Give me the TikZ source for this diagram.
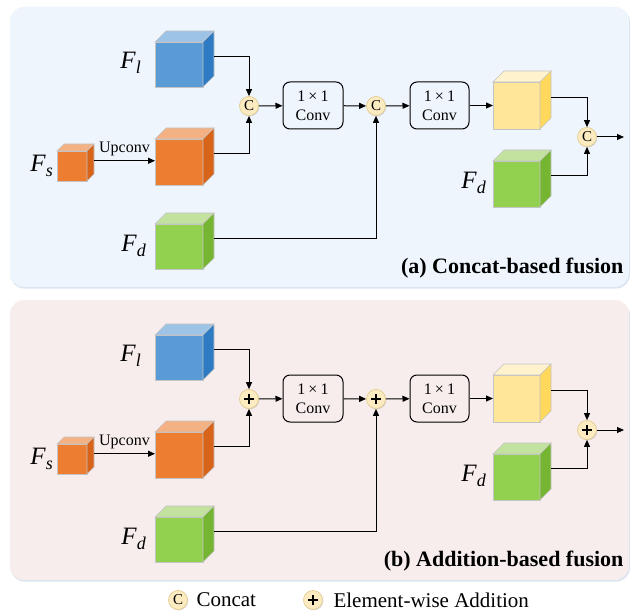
\documentclass[tikz,border=0pt]{standalone}
\usepackage{fontspec}
\setmainfont{LiberationSerif}[Extension=.ttf, UprightFont=*-Regular, BoldFont=*-Bold, ItalicFont=*-Italic, BoldItalicFont=*-BoldItalic]
\usetikzlibrary{arrows.meta,calc,shadows}

\definecolor{bgA}{HTML}{EEF5FC}
\definecolor{bgB}{HTML}{F8EDED}
\definecolor{panelshadow}{HTML}{D9E4F0}
\definecolor{edgec}{HTML}{C4C4C4}
\definecolor{blueF}{HTML}{5B9BD5}
\definecolor{blueT}{HTML}{9DC3E6}
\definecolor{blueS}{HTML}{2E7BC4}
\definecolor{orangeF}{HTML}{ED7D31}
\definecolor{orangeT}{HTML}{F4B183}
\definecolor{orangeS}{HTML}{D8641A}
\definecolor{greenF}{HTML}{92D050}
\definecolor{greenT}{HTML}{C3E2A0}
\definecolor{greenS}{HTML}{76B531}
\definecolor{yellowF}{HTML}{FFE699}
\definecolor{yellowT}{HTML}{FFF2CC}
\definecolor{yellowS}{HTML}{FFD85C}
\definecolor{opfill}{HTML}{FCEBC0}
\definecolor{opedge}{HTML}{E2CC90}

\tikzset{
  arr/.style={line width=1pt, -{Triangle[length=7pt,width=6pt]}},
  opnode/.style={circle, fill=opfill, draw=opedge, line width=0.7pt, minimum size=19pt, inner sep=0pt, text=black,
    drop shadow={shadow xshift=0.8pt, shadow yshift=-0.9pt, opacity=0.25}},
  concat/.style={opnode, path picture={\node[text=black] at (path picture bounding box.center) {\fontsize{15}{15}\selectfont C};}},
  addop/.style={opnode, path picture={
      \draw[black, line width=1.9pt] ($(path picture bounding box.center)+(-5,0)$) -- ++(10,0);
      \draw[black, line width=1.9pt] ($(path picture bounding box.center)+(0,-5)$) -- ++(0,10);}},
  convbox/.style={draw, line width=1pt, rounded corners=7pt, minimum width=60pt, minimum height=47pt,
    align=center, inner sep=0pt, font=\fontsize{16}{19}\selectfont},
  flabel/.style={anchor=east, inner sep=0pt},
  caption/.style={anchor=east, font=\bfseries\fontsize{22}{24}\selectfont},
  legendtext/.style={anchor=west, font=\fontsize{21}{23}\selectfont},
}

\newcommand{\flab}[1]{\fontsize{25}{26}\selectfont\textit{F}\raisebox{-5pt}{\fontsize{18}{20}\selectfont\textit{#1}}}
\newcommand{\onebyone}{1\hspace{0.2em}×\hspace{0.2em}1}

% name, x, y, w, h, depth, colour prefix
\newcommand{\mycube}[7]{%
  \node[draw=edgec, line width=0.6pt, fill=#7F, minimum width=#4pt, minimum height=#5pt, inner sep=0pt, outer sep=0pt] (#1) at (#2,#3) {};
  \filldraw[draw=edgec, line width=0.6pt, fill=#7T] (#1.north west) -- ++(#6,-#6) -- ++(#4,0) -- (#1.north east) -- cycle;
  \filldraw[draw=edgec, line width=0.6pt, fill=#7S] (#1.north east) -- ++(#6,-#6) -- ++(0,#5) -- (#1.south east) -- cycle;
  \coordinate (#1-out) at ($(#1.east)+(#6,-#6*0.75)$);
}

% prefix, y shift, operator style, caption
\newcommand{\fusionpanel}[4]{%
\begin{scope}[yshift=#2]
  \mycube{#1fl}{179}{64.5}{48}{45}{11}{blue}
  \mycube{#1fs}{72}{166}{30}{30}{7}{orange}
  \mycube{#1fo}{179}{162}{48}{46}{11}{orange}
  \mycube{#1fd}{179}{246.5}{48}{45}{11}{green}
  \mycube{#1fy}{516.5}{105.5}{47}{47}{11}{yellow}
  \mycube{#1fg}{516.5}{184}{47}{46}{11}{green}
  \node[flabel] (#1lfl) at (141,63) {\flab{l}};
  \node[flabel] (#1lfs) at (53,166) {\flab{s}};
  \node[flabel] (#1lfd) at (146,246) {\flab{d}};
  \node[flabel] (#1lfg) at (486,183) {\flab{d}};
  \node[#3] (#1c1) at (249,106) {};
  \node[convbox] (#1box1) at (313,105.5) {\onebyone\\Conv};
  \node[#3] (#1c2) at (376,106) {};
  \node[convbox, minimum width=59pt] (#1box2) at (439.5,105.5) {\onebyone\\Conv};
  \node[#3] (#1c3) at (587,137) {};
  \coordinate (#1end) at (624,137);
  \draw[arr] (#1fl-out) -| (#1c1);
  \draw[arr] (#1fo-out) -| (#1c1);
  \draw[arr] (#1fs-out) -- node[above=1pt, font=\fontsize{16}{18}\selectfont] {Upconv} (#1fs-out -| #1fo.west);
  \draw[arr] (#1c1) -- (#1box1);
  \draw[arr] (#1box1) -- (#1c2);
  \draw[arr] (#1fd-out) -| (#1c2);
  \draw[arr] (#1c2) -- (#1box2);
  \draw[arr] (#1box2) -- (#1fy);
  \draw[arr] (#1fy-out) -| (#1c3);
  \draw[arr] (#1fg-out) -| (#1c3);
  \draw[arr] (#1c3) -- (#1end);
  \node[caption] (#1cap) at (627,268) {#4};
\end{scope}
}

\begin{document}
\begin{tikzpicture}[x=1pt, y=-1pt]
  \useasboundingbox (0,0) rectangle (631,612);
  \fill[white] (0,0) rectangle (631,612);
  % panel backgrounds
  \fill[panelshadow, rounded corners=14pt] (10.5,8.5) rectangle (630,288.5);
  \fill[bgA, rounded corners=14pt] (10,7) rectangle (629,287);
  \fill[panelshadow, rounded corners=14pt] (10.5,301.5) rectangle (630,581.5);
  \fill[bgB, rounded corners=14pt] (10,300) rectangle (629,580);

  \fusionpanel{a}{0pt}{concat}{(a) Concat-based fusion}
  \fusionpanel{b}{-293pt}{addop}{(b) Addition-based fusion}

  % legend
  \node[concat] (lc) at (178,600) {};
  \node[legendtext] (lct) at (193,600) {Concat};
  \node[addop] (la) at (313,600) {};
  \node[legendtext] (lat) at (330,600) {Element-wise Addition};
\end{tikzpicture}
\end{document}
